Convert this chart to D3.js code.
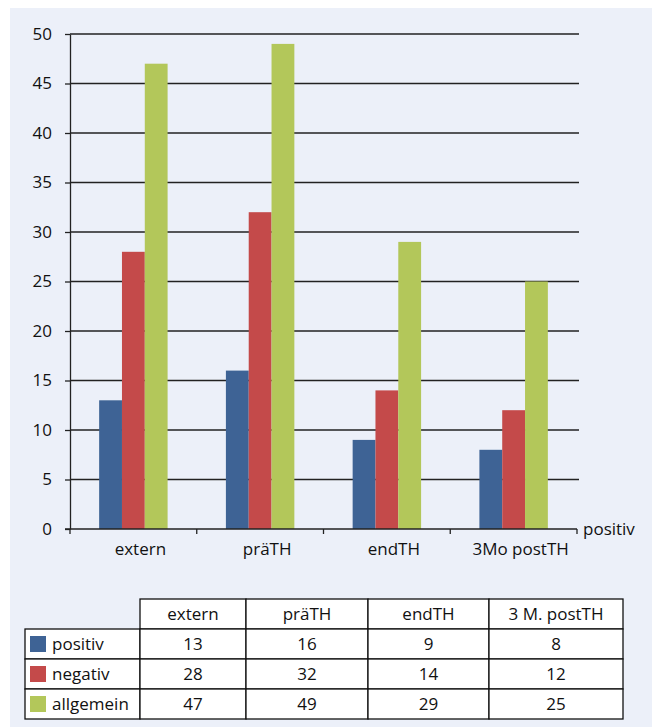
<!DOCTYPE html>
<html>
<head>
<meta charset="utf-8">
<script src="https://cdn.jsdelivr.net/npm/d3@7"></script>
<style>
  body { margin: 0; background: #fff; }
  text { font-family: "Open Sans", "DejaVu Sans", sans-serif; fill: #111; }
</style>
</head>
<body>
<script>
var categories = ["extern", "präTH", "endTH", "3Mo postTH"];
var tableHeads = ["extern", "präTH", "endTH", "3 M. postTH"];
var seriesNames = ["positiv", "negativ", "allgemein"];
var positiv = [13, 16, 9, 8];
var negativ = [28, 32, 14, 12];
var allgemein = [47, 49, 29, 25];
var yTicks = [0, 5, 10, 15, 20, 25, 30, 35, 40, 45, 50];

var colors = ["#3e6395", "#c44a4a", "#b3c75a"];
var values = [positiv, negativ, allgemein];

var width = 652, height = 727;
var margin = {left: 70, right: 75, top: 34, bottom: 198};
var fs = "17px";

var svg = d3.select("body").append("svg")
  .attr("width", width).attr("height", height);

// light panel
svg.append("rect").attr("x", 10).attr("y", 8)
  .attr("width", width - 10).attr("height", height - 8)
  .attr("fill", "#ecf0f9");

var x0 = d3.scaleBand().domain(categories)
  .range([margin.left, width - margin.right]);
var bw = x0.bandwidth();
var groupW = bw * 0.54;
var x1 = d3.scaleBand().domain(seriesNames)
  .range([(bw - groupW) / 2, (bw + groupW) / 2]);

var y = d3.scaleLinear().domain([0, 50])
  .range([height - margin.bottom, margin.top]);

// gridlines
svg.append("g").selectAll("line")
  .data(yTicks.filter(function(d){ return d > 0; }))
  .enter().append("line")
  .attr("x1", margin.left).attr("x2", width - margin.right + 2)
  .attr("y1", function(d){ return y(d); })
  .attr("y2", function(d){ return y(d); })
  .attr("stroke", "#222").attr("stroke-width", 1.3);

// bars
var rows = [];
categories.forEach(function(c, i){
  seriesNames.forEach(function(s, j){
    rows.push({cat: c, ser: s, val: values[j][i], col: colors[j]});
  });
});

svg.append("g").selectAll("rect").data(rows)
  .enter().append("rect")
  .attr("x", function(d){ return x0(d.cat) + x1(d.ser); })
  .attr("width", x1.bandwidth())
  .attr("y", function(d){ return y(d.val); })
  .attr("height", function(d){ return y(0) - y(d.val); })
  .attr("fill", function(d){ return d.col; });

// y axis
var yAxis = d3.axisLeft(y).tickValues(yTicks).tickSizeInner(5).tickSizeOuter(0).tickPadding(13);
var gy = svg.append("g").attr("transform", "translate(" + margin.left + ",0)").call(yAxis);
gy.selectAll("path, line").attr("stroke", "#222").attr("stroke-width", 1.3);
gy.selectAll("text").style("font-size", fs).attr("fill", "#111");

// x axis
var xAxis = d3.axisBottom(x0).tickSize(0).tickPadding(14);
var gx = svg.append("g").attr("transform", "translate(0," + y(0) + ")").call(xAxis);
gx.select(".domain").remove();
gx.selectAll("text").style("font-size", fs).attr("fill", "#111").attr("dx", 7);
svg.append("line").attr("x1", margin.left - 5).attr("x2", x0.range()[1])
  .attr("y1", y(0)).attr("y2", y(0)).attr("stroke", "#222").attr("stroke-width", 1.5);
var edges = categories.map(function(c){ return x0(c); }).concat([x0.range()[1]]);
svg.append("g").selectAll("line").data(edges)
  .enter().append("line")
  .attr("x1", function(d){ return d; }).attr("x2", function(d){ return d; })
  .attr("y1", y(0)).attr("y2", y(0) + 5)
  .attr("stroke", "#222").attr("stroke-width", 1.3);

svg.append("text").attr("x", x0.range()[1] + 6).attr("y", y(0))
  .attr("dy", "0.35em").style("font-size", fs).text("positiv");

// data table
var colEdges = [25, 140, 246, 368, 489, 623];
var rowEdges = [599, 629, 659, 689, 719];
var table = svg.append("g");

function cell(x, y0, w, h) {
  table.append("rect")
    .attr("x", x).attr("y", y0).attr("width", w).attr("height", h)
    .attr("fill", "#fff").attr("stroke", "#111").attr("stroke-width", 1.3);
}

tableHeads.forEach(function(h, i){
  cell(colEdges[i + 1], rowEdges[0], colEdges[i + 2] - colEdges[i + 1], rowEdges[1] - rowEdges[0]);
  table.append("text")
    .attr("x", (colEdges[i + 1] + colEdges[i + 2]) / 2)
    .attr("y", (rowEdges[0] + rowEdges[1]) / 2)
    .attr("dy", "0.35em").attr("text-anchor", "middle")
    .style("font-size", fs).text(h);
});

seriesNames.forEach(function(s, j){
  var top = rowEdges[j + 1], bot = rowEdges[j + 2];
  cell(colEdges[0], top, colEdges[1] - colEdges[0], bot - top);
  table.append("rect")
    .attr("x", colEdges[0] + 5).attr("y", (top + bot) / 2 - 8)
    .attr("width", 16).attr("height", 16).attr("fill", colors[j]);
  table.append("text")
    .attr("x", colEdges[0] + 27).attr("y", (top + bot) / 2)
    .attr("dy", "0.35em").style("font-size", fs).text(s);
  values[j].forEach(function(v, i){
    cell(colEdges[i + 1], top, colEdges[i + 2] - colEdges[i + 1], bot - top);
    table.append("text")
      .attr("x", (colEdges[i + 1] + colEdges[i + 2]) / 2)
      .attr("y", (top + bot) / 2)
      .attr("dy", "0.35em").attr("text-anchor", "middle")
      .style("font-size", fs).text(v);
  });
});
</script>
</body>
</html>
